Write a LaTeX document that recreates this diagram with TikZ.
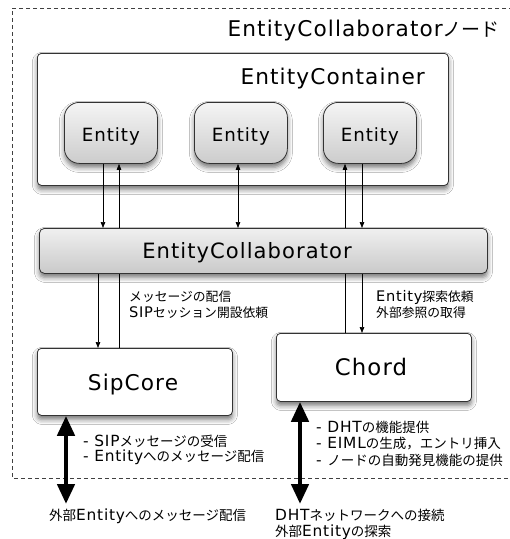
\documentclass[tikz,border=0pt]{standalone}
\usepackage{fontspec}
\setmainfont{DejaVu Sans}[Scale=1.14,LetterSpace=5]
\newfontfamily\jpfont{Noto Sans CJK JP}
\newcommand\jp[1]{{\jpfont #1}}
\usetikzlibrary{arrows.meta,shadows.blur}

\tikzset{
  boxshadow/.style={blur shadow={shadow xshift=0pt,shadow yshift=-4pt,shadow blur radius=5pt,shadow opacity=55}},
  plainbox/.style={draw=black!80,line width=0.8pt,fill=white,rounded corners=4pt,boxshadow,anchor=north west,inner sep=0pt},
  entitybox/.style={draw=black!80,line width=0.8pt,rounded corners=15pt,top color=gray!8,bottom color=gray!40,
    boxshadow,anchor=north west,minimum width=93pt,minimum height=61pt,inner sep=0pt},
  collabbox/.style={draw=black!80,line width=0.8pt,rounded corners=5pt,top color=gray!12,bottom color=gray!42,
    boxshadow,anchor=north west,inner sep=0pt},
  bigtext/.style={inner sep=0pt,font=\fontsize{19}{22}\selectfont},
  entitytext/.style={inner sep=0pt,anchor=base,font=\fontsize{16}{19}\selectfont},
  thin/.style={line width=0.7pt,black},
  tip/.style={-{Triangle[length=6pt,width=4.5pt]}},
  bothtip/.style={{Triangle[length=6pt,width=4.5pt]}-{Triangle[length=6pt,width=4.5pt]}},
  thick/.style={line width=4.5pt,{Triangle[length=20pt,width=17pt]}-{Triangle[length=20pt,width=17pt]}},
  % multi-line notes are placed by the baseline of their last line
  note/.style={anchor=base west,align=left,inner sep=0pt,font=\fontsize{13.5}{15.5}\selectfont},
}

\begin{document}
\begin{tikzpicture}[x=1pt,y=-1pt]
\useasboundingbox (0,0) rectangle (510,539);
\clip (0,0) rectangle (510,539);
\fill[white] (0,0) rectangle (510,539);

% enclosing node region
\draw[black!75,line width=0.7pt,dash pattern=on 4pt off 3pt] (520,8) -- (12,8) -- (12,478) -- (520,478);
\node[bigtext,anchor=base east] (title) at (500,36) {EntityCollaborator\jp{ノード}};

% container with its three entities
\node[plainbox,minimum width=411pt,minimum height=132pt] (cont) at (37,53) {};
\node[bigtext,anchor=base east] (contlabel) at (425,84) {EntityContainer};
\node[entitybox] (e1) at (64,102) {};
\node[entitybox] (e2) at (194,102) {};
\node[entitybox] (e3) at (323,102) {};
\node[entitytext] (e1text) at (e1.center |- 0,141) {Entity};
\node[entitytext] (e2text) at (e2.center |- 0,141) {Entity};
\node[entitytext] (e3text) at (e3.center |- 0,141) {Entity};

% lower components
\node[plainbox,minimum width=195pt,minimum height=67pt] (sip) at (37,348) {};
\node[plainbox,minimum width=195pt,minimum height=68pt] (chord) at (276,333) {};
\node[inner sep=0pt,anchor=base,font=\fontsize{19}{23}\selectfont] (siptext) at (133,390) {SipCore};
\node[inner sep=0pt,anchor=base,font=\fontsize{20}{23}\selectfont] (chordtext) at (371,375) {Chord};

% lines that run behind the collaborator bar
\draw[thin,tip] (sip.north -| 119,0) -- (e1.south -| 119,0);
\draw[thin,tip] (chord.north -| 345,0) -- (e3.south -| 345,0);

% collaborator bar
\node[collabbox,minimum width=448pt,minimum height=45pt] (collab) at (39,228) {};
\node[bigtext,anchor=base,font=\fontsize{18.5}{22}\selectfont] (collablabel) at (247,258) {EntityCollaborator};

% thin connectors
\draw[thin,tip] (e1.south -| 103,0) -- (collab.north -| 103,0);
\draw[thin,bothtip] (e2.south -| 238,0) -- (collab.north -| 238,0);
\draw[thin,tip] (e3.south -| 362,0) -- (collab.north -| 362,0);
\draw[thin,tip] (collab.south -| 98,0) -- (sip.north -| 98,0);
\draw[thin,tip] (collab.south -| 362,0) -- (chord.north -| 362,0);

\node[note,font=\fontsize{12.8}{16}\selectfont] (n1) at (129,317) {\jp{メッセージの配信}\\SIP\jp{セッション開設依頼}};
\node[note,font=\fontsize{12.8}{16}\selectfont] (n2) at (376,317) {Entity\jp{探索依頼}\\\jp{外部参照の取得}};

% external links
\coordinate (sipext) at (66,504);
\coordinate (chordext) at (300,504);
\draw[thick] (sip.south -| sipext) -- (sipext);
\draw[thick] (chord.south -| chordext) -- (chordext);

\node[note] (n3) at (83,461.5) {- SIP\jp{メッセージの受信}\\- Entity\jp{へのメッセージ配信}};
\node[note,font=\fontsize{13.5}{16.5}\selectfont] (n4) at (316,465) {- DHT\jp{の機能提供}\\- EIML\jp{の生成，エントリ挿入}\\- \jp{ノードの自動発見機能の提供}};
\node[note] (n5) at (49,520) {\jp{外部}Entity\jp{へのメッセージ配信}};
\node[note] (n6) at (275,536) {DHT\jp{ネットワークへの接続}\\\jp{外部}Entity\jp{の探索}};
\end{tikzpicture}
\end{document}
